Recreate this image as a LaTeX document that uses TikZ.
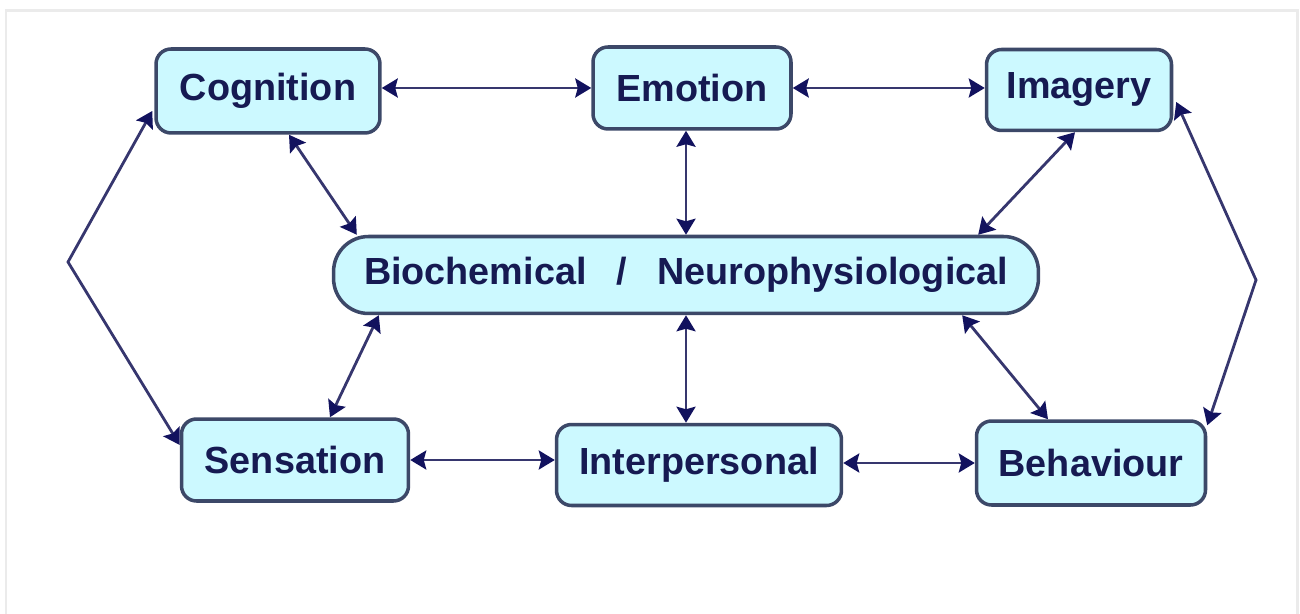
\documentclass[tikz,border=0pt]{standalone}
\usepackage{fontspec}
\setmainfont{Liberation Sans}
\usetikzlibrary{arrows.meta, calc}

\definecolor{boxfill}{HTML}{CCF9FF}
\definecolor{boxline}{HTML}{3C4868}
\definecolor{boxtext}{HTML}{161A52}
\definecolor{linkline}{HTML}{36366E}
\definecolor{linktip}{HTML}{12125E}
\definecolor{framegray}{HTML}{EBEBEB}

\tikzset{
    box/.style = {rectangle, rounded corners = 0.3cm, draw = boxline, line width = 2pt,
        fill = boxfill, text = boxtext, inner sep = 0pt,
        font = \fontsize{21.5}{24}\selectfont\bfseries},
    link/.style = {draw = linkline, line width = 1.6pt, <->,
        >={Stealth[length = 3.2mm, width = 3.8mm, inset = 0.5mm, color = linktip]}},
}

\begin{document}
\begin{tikzpicture}[x = 0.02cm, y = -0.02cm]
            \useasboundingbox (0,0) rectangle (1300,614);
            % Draw the frame:
            \draw [framegray, line width = 1.7pt] (6,620) -- (6,11) -- (1297,11) -- (1297,620);

            % Draw the boxes:
            \node [box, minimum width = 4.48cm, minimum height = 1.68cm] (Cognition) at (268,91) {Cognition};
            \node [box, minimum width = 3.96cm, minimum height = 1.64cm] (Emotion) at (692,88) {Emotion};
            \node [box, minimum width = 3.70cm, minimum height = 1.62cm] (Imagery) at (1079,90) {Imagery};
            \node [box, rounded corners = 0.7cm, minimum width = 14.1cm, minimum height = 1.54cm] (Bio) at (686,275)
                {Biochemical\hspace{0.8em}/\hspace{0.8em}Neurophysiological};
            \node [box, minimum width = 4.54cm, minimum height = 1.64cm] (Sensation) at (295,460) {Sensation};
            \node [box, minimum width = 5.70cm, minimum height = 1.62cm] (Interpersonal) at (699,465) {Interpersonal};
            \node [box, minimum width = 4.58cm, minimum height = 1.68cm] (Behaviour) at (1091,463) {Behaviour};

            % Draw the links along the rows:
            \draw [link] (Cognition.east |- Emotion.west) -- (Emotion.west);
            \draw [link] (Emotion.east) -- (Emotion.east -| Imagery.west);
            \draw [link] (Sensation.east) -- (Sensation.east -| Interpersonal.west);
            \draw [link] (Behaviour.west -| Interpersonal.east) -- (Behaviour.west);

            % Draw the links to the centre box:
            \draw [link] ($(Cognition.south)+(21,0)$) -- ($(Bio.north west)+(25,0)$);
            \draw [link] (Bio.north |- Emotion.south) -- (Bio.north);
            \draw [link] ($(Imagery.south)+(-4,0)$) -- ($(Bio.north east)+(-62,0)$);
            \draw [link] ($(Bio.south west)+(47,0)$) -- ($(Sensation.north)+(35,0)$);
            \draw [link] (Bio.south) -- (Bio.south |- Interpersonal.north);
            \draw [link] ($(Bio.south east)+(-78,0)$) -- ($(Behaviour.north)+(-43,0)$);

            % Draw the links round the sides:
            \coordinate (LeftBend) at (68,262);
            \coordinate (RightBend) at (1256,280);
            \draw [link] ($(Cognition.west)+(-2,20)$) -- (LeftBend) -- ($(Sensation.west)+(0,-15)$);
            \draw [link] ($(Imagery.east)+(3,12)$) -- (RightBend) -- ($(Behaviour.north east)+(0,6)$);
\end{tikzpicture}
\end{document}
